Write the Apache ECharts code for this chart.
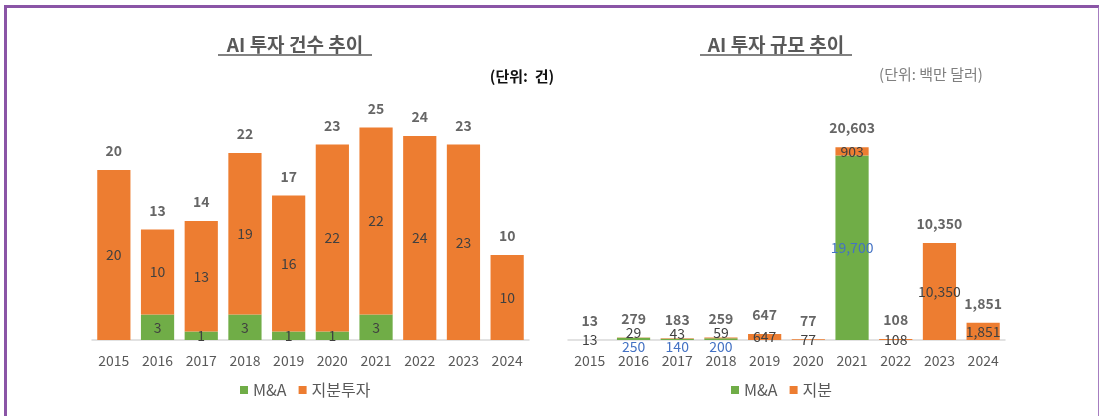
<!DOCTYPE html>
<html>
<head>
<meta charset="utf-8">
<script src="https://cdn.jsdelivr.net/npm/echarts@6/dist/echarts.min.js"></script>
<style>
    html, body { margin: 0; padding: 0; background: #fff; }
    #main { width: 1099px; height: 416px; }
    #frame {
        position: absolute; left: 4px; top: 5px; width: 1091px; height: 420px;
        border-left: 3px solid #8A55A6; border-top: 3px solid #8A55A6; border-right: 2px solid #A67DC0;
        pointer-events: none;
    }
</style>
</head>
<body>
<div id="main"></div>
<div id="frame"></div>
<script>
    // 공통 연도
    const years = ['2015', '2016', '2017', '2018', '2019', '2020', '2021', '2022', '2023', '2024'];

    // 건수 (단위: 건)
    const countMA = [0, 3, 1, 3, 1, 1, 3, 0, 0, 0];
    const countEquity = [20, 10, 13, 19, 16, 22, 22, 24, 23, 10];
    const countTotal = [20, 13, 14, 22, 17, 23, 25, 24, 23, 10];

    // 규모 (단위: 백만 달러)
    const amountMA = [0, 250, 140, 200, 0, 0, 19700, 0, 0, 0];
    const amountEquity = [13, 29, 43, 59, 647, 77, 903, 108, 10350, 1851];
    const amountTotal = [13, 279, 183, 259, 647, 77, 20603, 108, 10350, 1851];

    const FONT = '"Noto Sans CJK KR", "Noto Sans", sans-serif';
    const ORANGE = '#ED7D31';
    const GREEN = '#70AD47';

    let fmt = v => v.toLocaleString('en-US');

    let xAxisBase = {
        type: 'category',
        data: years,
        axisTick: { show: false },
        axisLine: { lineStyle: { color: '#D9D9D9', width: 1.5 } },
        axisLabel: { color: '#595959', fontSize: 14, margin: 14, fontFamily: FONT }
    };

    let segLabel = {
        show: true,
        color: '#404040',
        fontSize: 14,
        fontFamily: FONT,
        position: 'inside'
    };

    let totalLabel = {
        show: true,
        position: 'top',
        distance: 12,
        color: '#404040',
        fontSize: 14,
        fontWeight: 'bold',
        fontFamily: FONT,
        formatter: p => fmt(p.value)
    };

    // 왼쪽: 0 은 라벨 없음
    let leftMA = countMA.map(v => v === 0 ? { value: v, label: { show: false } } : v);

    // 오른쪽: 작은 M&A 는 막대 아래, 그 위 지분은 막대 위
    let rightMA = amountMA.map(v => {
        if (v === 0) return { value: v, label: { show: false } };
        if (v < 1000) return { value: v, label: { position: 'bottom', distance: 0 } };
        return v;
    });
    let rightEquity = amountEquity.map((v, i) => {
        if (amountMA[i] > 0 && amountMA[i] < 1000) {
            return { value: v, label: { position: 'top', distance: -2 } };
        }
        return v;
    });

    let myChart = echarts.init(document.getElementById('main'));

    let option = {
        animation: false,
        textStyle: { fontFamily: FONT },
        grid: [
            { left: 92, width: 437, top: 85, height: 255 },
            { left: 568, width: 437, top: 106, height: 234 }
        ],
        xAxis: [
            Object.assign({ gridIndex: 0 }, xAxisBase),
            Object.assign({ gridIndex: 1 }, xAxisBase)
        ],
        yAxis: [
            { gridIndex: 0, type: 'value', min: 0, max: 30, show: false },
            { gridIndex: 1, type: 'value', min: 0, max: 25000, show: false }
        ],
        legend: [
            {
                data: ['M&A', '지분투자'],
                left: 235, top: 377,
                icon: 'rect', itemWidth: 8, itemHeight: 8, itemGap: 12,
                textStyle: { color: '#595959', fontSize: 16, fontFamily: FONT }
            },
            {
                data: ['M&A', '지분'],
                left: 726, top: 377,
                icon: 'rect', itemWidth: 8, itemHeight: 8, itemGap: 12,
                textStyle: { color: '#595959', fontSize: 16, fontFamily: FONT }
            }
        ],
        graphic: [
            {
                type: 'text', x: 295, y: 45,
                style: { text: 'AI 투자 건수 추이', fill: '#595959', font: 'bold 19px ' + FONT, textAlign: 'center', textVerticalAlign: 'middle' }
            },
            { type: 'line', shape: { x1: 218, y1: 55, x2: 372, y2: 55 }, style: { stroke: '#595959', lineWidth: 1.5 } },
            {
                type: 'text', x: 776, y: 45,
                style: { text: 'AI 투자 규모 추이', fill: '#595959', font: 'bold 19px ' + FONT, textAlign: 'center', textVerticalAlign: 'middle' }
            },
            { type: 'line', shape: { x1: 700, y1: 55, x2: 852, y2: 55 }, style: { stroke: '#595959', lineWidth: 1.5 } },
            {
                type: 'text', x: 522, y: 76,
                style: { text: '(단위:  건)', fill: '#111', font: 'bold 15px ' + FONT, textAlign: 'center', textVerticalAlign: 'middle' }
            },
            {
                type: 'text', x: 931, y: 74,
                style: { text: '(단위: 백만 달러)', fill: '#7F7F7F', font: '15px ' + FONT, textAlign: 'center', textVerticalAlign: 'middle' }
            }
        ],
        series: [
            {
                name: 'M&A', type: 'bar', stack: 'cnt', xAxisIndex: 0, yAxisIndex: 0,
                barCategoryGap: '24%', data: leftMA,
                itemStyle: { color: GREEN }, label: segLabel
            },
            {
                name: '지분투자', type: 'bar', stack: 'cnt', xAxisIndex: 0, yAxisIndex: 0,
                barCategoryGap: '24%', data: countEquity,
                itemStyle: { color: ORANGE }, label: segLabel
            },
            {
                name: '합계', type: 'scatter', xAxisIndex: 0, yAxisIndex: 0,
                symbolSize: 0, data: countTotal, label: totalLabel, silent: true
            },
            {
                name: 'M&A', type: 'bar', stack: 'amt', xAxisIndex: 1, yAxisIndex: 1,
                barCategoryGap: '24%', data: rightMA,
                itemStyle: { color: GREEN },
                label: Object.assign({}, segLabel, { color: '#4472C4', formatter: p => fmt(p.value) })
            },
            {
                name: '지분', type: 'bar', stack: 'amt', xAxisIndex: 1, yAxisIndex: 1,
                barCategoryGap: '24%', data: rightEquity,
                itemStyle: { color: ORANGE },
                label: Object.assign({}, segLabel, { formatter: p => fmt(p.value) })
            },
            {
                name: '합계2', type: 'scatter', xAxisIndex: 1, yAxisIndex: 1,
                symbolSize: 0, data: amountTotal, label: totalLabel, silent: true
            }
        ]
    };

    myChart.setOption(option, true);
</script>
</body>
</html>
